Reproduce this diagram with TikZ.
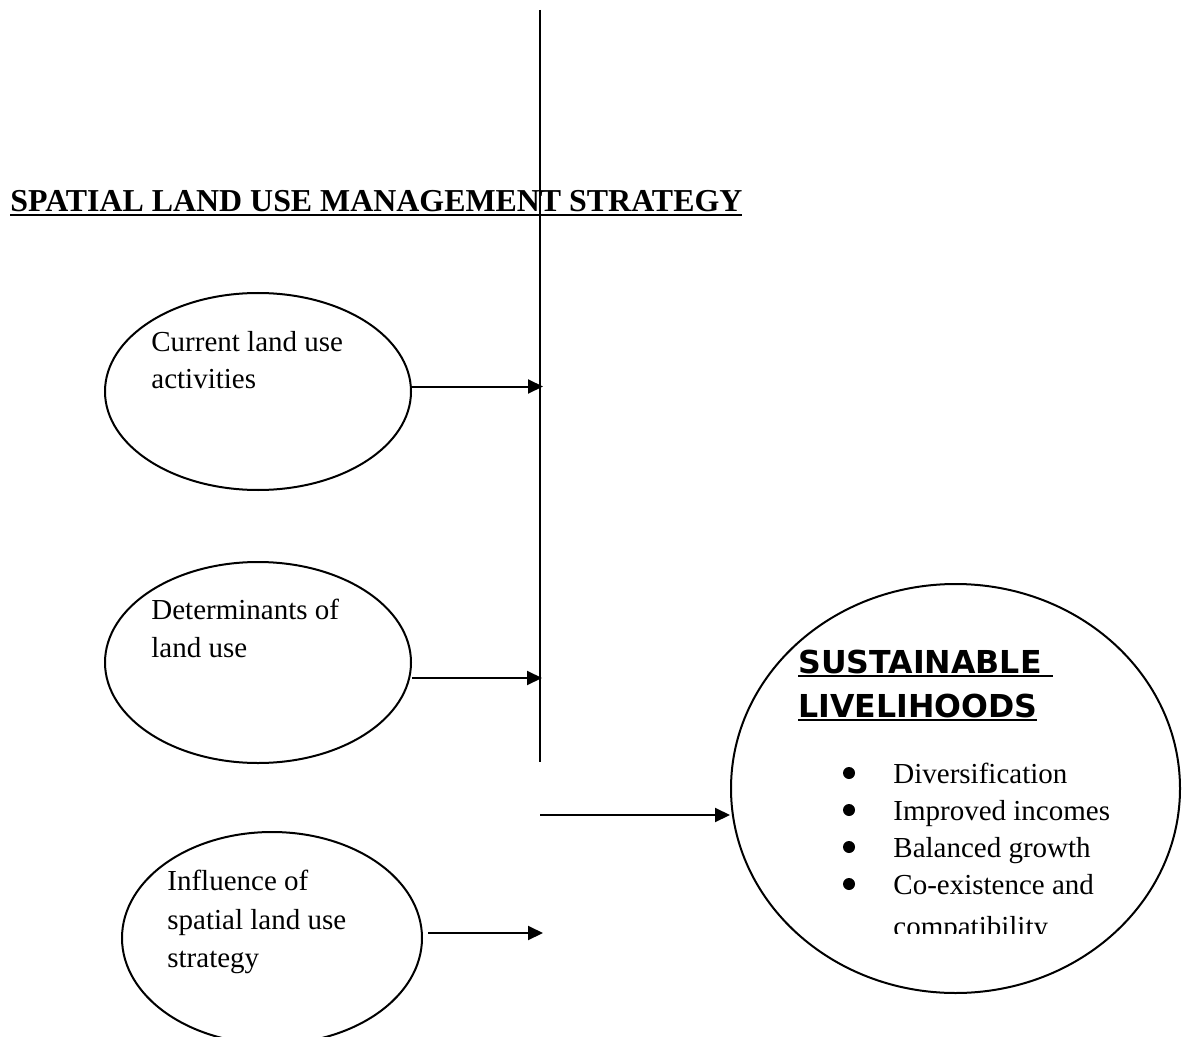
\documentclass[tikz,border=0pt]{standalone}
\usepackage{fontspec}
\setmainfont{Liberation Serif}
\newfontfamily\headfont{DejaVu Sans}
\usetikzlibrary{arrows.meta}
\usetikzlibrary{shapes.geometric}

\newcommand{\undl}[1]{\setbox0\hbox{#1}\rlap{\rule[-2pt]{\wd0}{1pt}}\box0}

\tikzset{
  bubble/.style={draw, ellipse, line width=1pt, inner sep=0pt},
  txt/.style={anchor=base west, inner sep=0pt, font=\fontsize{14.5}{18}\selectfont},
  head/.style={txt, font=\fontsize{15.8}{18}\selectfont\headfont\bfseries},
  link/.style={line width=1pt, -{Triangle[length=7.5pt,width=7pt]}}
}

\begin{document}
\begin{tikzpicture}[x=0.5pt, y=-0.5pt]
    \useasboundingbox (0,0) rectangle (1182,1037);

    \coordinate (T) at (540,10);
    \coordinate (B) at (540,762);
    \draw[line width=1pt] (T) -- (B);

    \node[txt, font=\fontsize{15.95}{18}\selectfont\bfseries] (title) at (10,212)
        {\undl{SPATIAL LAND USE MANAGEMENT STRATEGY}};

    \node[bubble, minimum width=153pt, minimum height=98.5pt] (cur) at (258,391.5) {};
    \node[bubble, minimum width=153pt, minimum height=100.5pt] (det) at (258,662.5) {};
    \node[bubble, minimum width=150pt, minimum height=106pt] (inf) at (272,938) {};
    \node[bubble, minimum width=224.5pt, minimum height=204.5pt] (sus) at (955.5,788.5) {};

    \node[txt] (cur1) at (151,351) {Current land use};
    \node[txt] (cur2) at (151,388) {activities};

    \node[txt] (det1) at (151,619) {Determinants of};
    \node[txt] (det2) at (151,657) {land use};

    \node[txt] (inf1) at (167,890) {Influence of};
    \node[txt] (inf2) at (167,929) {spatial land use};
    \node[txt] (inf3) at (167,967) {strategy};

    \node[head] (sus1) at (798,673) {\undl{SUSTAINABLE\ }};
    \node[head] (sus2) at (798,717) {\undl{LIVELIHOODS}};

    \foreach \y/\t [count=\i] in {783/Diversification, 820/Improved incomes,
                                  857/Balanced growth, 894/Co-existence and} {
        \fill[black] (849,\y-10) circle (3pt);
        \node[txt] (item\i) at (893,\y) {\t};
    }
    \begin{scope}
        \clip (700,600) rectangle (1182,933);
        \node[txt] (item5) at (893,936) {compatibility};
    \end{scope}

    \coordinate (b1) at (543,386.5);
    \coordinate (b2) at (542,678);
    \coordinate (b3) at (540,815);
    \coordinate (b4) at (543,933);

    \draw[link] (cur.east |- b1) -- (b1);
    \draw[link] (det.east |- b2) -- (b2);
    \draw[link] (b3) -- (sus.west |- b3);
    \draw[link] ([xshift=2.5pt]inf.east |- b4) -- (b4);
\end{tikzpicture}
\end{document}
